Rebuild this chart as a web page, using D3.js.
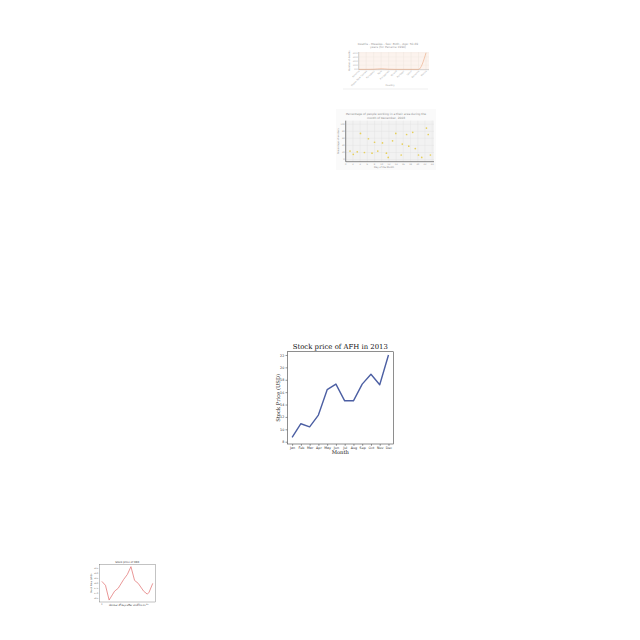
<!DOCTYPE html>
<html><head><meta charset="utf-8">
<script src="https://cdn.jsdelivr.net/npm/d3@7"></script>
<style>body{margin:0;background:#fff}svg{display:block}</style>
</head><body>
<script>
// ---- Main chart data ----
const months = ["Jan","Feb","Mar","Apr","May","Jun","Jul","Aug","Sep","Oct","Nov","Dec"];
const afhPrice = [8.7,10.9,10.4,12.3,16.4,17.3,14.6,14.6,17.3,18.9,17.2,22.0];
const afhTicks = [8,10,12,14,16,18,20,22];

// ---- Measles chart data ----
const measlesCountries = ["Panama","Papua New Guinea","Paraguay","Peru","Philippines","Poland","Portugal","Qatar","Romania","Russia"];
const measlesDeaths = [0,0,0.3,1.5,0.4,0,0,0,0,40];
const measlesTicks = [0,10,20,30,40];

// ---- Scatter chart data ----
const scatterDay = [1.2,2.1,3.2,4.1,5.2,6.3,7.3,8.0,8.9,10.2,11.3,11.8,13.0,13.9,15.4,15.7,16.9,17.5,18.6,19.3,20.2,21.1,22.4,22.9,23.5];
const scatterPct = [24,15,22,74,20,59,18,49,24,47,18,6,53,74,13,44,71,38,77,31,13,6,89,71,13];
const scatterXTicks = [0,2,4,6,8,10,12,14,16,18,20,22,24];
const scatterYTicks = [0,20,40,60,80,100];

// ---- XRX chart data ----
const xrxDays = [0,2,4,6,7,9,12,14,16,18,20,23,25,26,28];
const xrxPrice = [18.2,17.8,16.3,16.9,17.2,17.5,18.4,18.9,19.7,18.3,18.0,17.2,16.9,17.1,18.0];
const xrxXTicks = [0,5,10,15,20,25];
const xrxYTicks = [16.5,17,17.5,18,18.5,19,19.5];

const svg = d3.select("body").append("svg").attr("width",640).attr("height",640);
svg.append("rect").attr("width",640).attr("height",640).attr("fill","#fff");

// ================= MAIN CHART =================
(function(){
  const L=287.3,R=393.3,T=351.7,B=444;
  const g = svg.append("g");
  const x = d3.scaleLinear().domain([-0.55, 11.55]).range([L,R]);
  const y = d3.scaleLinear().domain([7.63, 22.53]).range([B,T]);
  g.append("rect").attr("x",L).attr("y",T).attr("width",R-L).attr("height",B-T)
    .attr("fill","#fff").attr("stroke","#444").attr("stroke-width",0.6);
  const xa = g.append("g").attr("transform",`translate(0,${B})`)
    .call(d3.axisBottom(x).tickValues(d3.range(12)).tickFormat(i=>months[i]).tickSize(1.8).tickPadding(1));
  const ya = g.append("g").attr("transform",`translate(${L},0)`)
    .call(d3.axisLeft(y).tickValues(afhTicks).tickSize(1.8).tickPadding(1.2));
  [xa,ya].forEach(a=>{
    a.select(".domain").remove();
    a.selectAll("line").attr("stroke","#333").attr("stroke-width",0.5);
    a.selectAll("text").attr("font-family","DejaVu Sans").attr("font-size",3.3).attr("fill","#333");
  });
  g.append("path").datum(afhPrice)
    .attr("d", d3.line().x((d,i)=>x(i)).y(d=>y(d)))
    .attr("fill","none").attr("stroke","#4c5fa3").attr("stroke-width",1.4).attr("stroke-linejoin","round");
  g.append("text").attr("x",(L+R)/2).attr("y",349).attr("text-anchor","middle")
    .attr("font-family","DejaVu Serif").attr("font-size",6.9).attr("fill","#111").text("Stock price of AFH in 2013");
  g.append("text").attr("x",(L+R)/2).attr("y",454).attr("text-anchor","middle")
    .attr("font-family","DejaVu Serif").attr("font-size",5.2).attr("fill","#111").text("Month");
  g.append("text").attr("transform",`translate(279.5,${(T+B)/2}) rotate(-90)`).attr("text-anchor","middle")
    .attr("font-family","DejaVu Serif").attr("font-size",5.2).attr("fill","#111").text("Stock Price (USD)");
})();

// ================= MEASLES CHART =================
(function(){
  const L=358.7,R=429,T=52,B=69.7;
  const g = svg.append("g");
  const x = d3.scalePoint().domain(measlesCountries).range([L,R-3]);
  const y = d3.scaleLinear().domain([-0.8, 42]).range([B,T]);
  g.append("rect").attr("x",L).attr("y",T).attr("width",R-L).attr("height",B-T).attr("fill","#fcf3ee");
  g.selectAll(".vg").data(measlesCountries).enter().append("line")
    .attr("x1",d=>x(d)).attr("x2",d=>x(d)).attr("y1",T).attr("y2",B)
    .attr("stroke","#ece2dc").attr("stroke-width",0.4);
  g.selectAll(".hg").data(measlesTicks).enter().append("line")
    .attr("x1",L).attr("x2",R).attr("y1",d=>y(d)).attr("y2",d=>y(d))
    .attr("stroke","#f0e6e0").attr("stroke-width",0.3);
  g.append("line").attr("x1",L).attr("x2",L).attr("y1",T).attr("y2",B).attr("stroke","#999").attr("stroke-width",0.4);
  g.append("line").attr("x1",L).attr("x2",R).attr("y1",B).attr("y2",B).attr("stroke","#999").attr("stroke-width",0.4);
  g.selectAll(".yt").data(measlesTicks).enter().append("text")
    .attr("x",L-1).attr("y",d=>y(d)+0.7).attr("text-anchor","end")
    .attr("font-family","DejaVu Sans").attr("font-size",2.2).attr("fill","#aaa").text(d=>d.toFixed(1));
  g.selectAll(".xt").data(measlesCountries).enter().append("text")
    .attr("transform",d=>`translate(${x(d)+1},${B+1.5}) rotate(-45)`).attr("text-anchor","end")
    .attr("font-family","DejaVu Sans").attr("font-size",2.3).attr("fill","#aaa").text(d=>d);
  g.append("path").datum(measlesDeaths)
    .attr("d", d3.line().x((d,i)=>x(measlesCountries[i])).y(d=>y(d)).curve(d3.curveMonotoneX))
    .attr("fill","none").attr("stroke","#eba882").attr("stroke-width",0.6);
  g.append("text").attr("x",388).attr("y",44.5).attr("text-anchor","middle")
    .attr("font-family","DejaVu Sans").attr("font-size",2.9).attr("fill","#999").text("Deaths - Measles - Sex: Both - Age: 50-69");
  g.append("text").attr("x",388).attr("y",48.3).attr("text-anchor","middle")
    .attr("font-family","DejaVu Sans").attr("font-size",2.9).attr("fill","#999").text("years (for Panama 1990)");
  g.append("text").attr("x",390).attr("y",86).attr("text-anchor","middle")
    .attr("font-family","DejaVu Sans").attr("font-size",2.3).attr("fill","#999").text("Country");
  g.append("text").attr("transform",`translate(349.5,${(T+B)/2}) rotate(-90)`).attr("text-anchor","middle")
    .attr("font-family","DejaVu Sans").attr("font-size",2.3).attr("fill","#999").text("Number of deaths");
  g.append("line").attr("x1",343).attr("x2",428).attr("y1",89).attr("y2",89).attr("stroke","#e4e4e4").attr("stroke-width",0.6);
})();

// ================= SCATTER CHART =================
(function(){
  const L=345.7,R=434,T=120.7,B=161.7;
  const g = svg.append("g");
  g.append("rect").attr("x",336).attr("y",109).attr("width",100).attr("height",61).attr("fill","#fafafa");
  const x = d3.scaleLinear().domain([0,24.5]).range([L,R]);
  const y = d3.scaleLinear().domain([-6,110]).range([B,T]);
  g.append("rect").attr("x",L).attr("y",T).attr("width",R-L).attr("height",B-T).attr("fill","#f2f2f2");
  g.selectAll(".vg").data(scatterXTicks).enter().append("line")
    .attr("x1",d=>x(d)).attr("x2",d=>x(d)).attr("y1",T).attr("y2",B).attr("stroke","#e0e0e0").attr("stroke-width",0.35);
  g.selectAll(".hg").data(scatterYTicks).enter().append("line")
    .attr("x1",L).attr("x2",R).attr("y1",d=>y(d)).attr("y2",d=>y(d)).attr("stroke","#e0e0e0").attr("stroke-width",0.35);
  g.append("line").attr("x1",L).attr("x2",L).attr("y1",T).attr("y2",B).attr("stroke","#555").attr("stroke-width",0.7);
  g.append("line").attr("x1",L).attr("x2",R).attr("y1",B).attr("y2",B).attr("stroke","#555").attr("stroke-width",0.7);
  g.selectAll(".yt").data(scatterYTicks).enter().append("text")
    .attr("x",L-1).attr("y",d=>y(d)+0.7).attr("text-anchor","end")
    .attr("font-family","DejaVu Sans").attr("font-size",2.2).attr("fill","#999").text(d=>d);
  g.selectAll(".xt").data(scatterXTicks).enter().append("text")
    .attr("x",d=>x(d)).attr("y",B+2.8).attr("text-anchor","middle")
    .attr("font-family","DejaVu Sans").attr("font-size",2.2).attr("fill","#999").text(d=>d);
  g.selectAll("circle").data(scatterDay).enter().append("circle")
    .attr("cx",d=>x(d)).attr("cy",(d,i)=>y(scatterPct[i])).attr("r",0.85).attr("fill","#e6cf5a");
  g.append("text").attr("x",386).attr("y",115).attr("text-anchor","middle")
    .attr("font-family","DejaVu Sans").attr("font-size",2.9).attr("fill","#888").text("Percentage of people working in a their area during the");
  g.append("text").attr("x",386).attr("y",118.6).attr("text-anchor","middle")
    .attr("font-family","DejaVu Sans").attr("font-size",2.9).attr("fill","#888").text("month of December, 2003");
  g.append("text").attr("x",384).attr("y",167.5).attr("text-anchor","middle")
    .attr("font-family","DejaVu Sans").attr("font-size",2.3).attr("fill","#888").text("Day of the Month");
  g.append("text").attr("transform",`translate(339,${(T+B)/2}) rotate(-90)`).attr("text-anchor","middle")
    .attr("font-family","DejaVu Sans").attr("font-size",2.3).attr("fill","#888").text("Percentage of workers");
})();

// ================= XRX CHART =================
(function(){
  const L=99.3,R=155.3,T=564.7,B=602;
  const g = svg.append("g");
  const x = d3.scaleLinear().domain([-1.4,29.4]).range([L,R]);
  const y = d3.scaleLinear().domain([16.1,19.9]).range([B,T]);
  g.append("rect").attr("x",L).attr("y",T).attr("width",R-L).attr("height",B-T)
    .attr("fill","#fff").attr("stroke","#555").attr("stroke-width",0.35);
  g.selectAll(".yt").data(xrxYTicks).enter().append("text")
    .attr("x",L-1).attr("y",d=>y(d)+0.6).attr("text-anchor","end")
    .attr("font-family","DejaVu Sans").attr("font-size",1.9).attr("fill","#444").text(d=>d.toFixed(1));
  g.selectAll(".xt").data(xrxXTicks).enter().append("text")
    .attr("x",d=>x(d)).attr("y",B+2.6).attr("text-anchor","middle")
    .attr("font-family","DejaVu Sans").attr("font-size",1.9).attr("fill","#444").text(d=>d);
  g.append("path").datum(xrxPrice)
    .attr("d", d3.line().x((d,i)=>x(xrxDays[i])).y(d=>y(d)))
    .attr("fill","none").attr("stroke","#e06a6a").attr("stroke-width",0.7).attr("stroke-linejoin","round");
  g.append("text").attr("x",(L+R)/2).attr("y",563.3).attr("text-anchor","middle")
    .attr("font-family","DejaVu Sans").attr("font-size",2.6).attr("fill","#333").text("Stock price of XRX");
  g.append("text").attr("x",(L+R)/2).attr("y",605.5).attr("text-anchor","middle")
    .attr("font-family","DejaVu Sans").attr("font-size",2.2).attr("fill","#333").text("Number of days after 2013-01-01");
  g.append("text").attr("transform",`translate(92,${(T+B)/2}) rotate(-90)`).attr("text-anchor","middle")
    .attr("font-family","DejaVu Sans").attr("font-size",2.2).attr("fill","#333").text("Stock Price (USD)");
})();
</script>
</body></html>
